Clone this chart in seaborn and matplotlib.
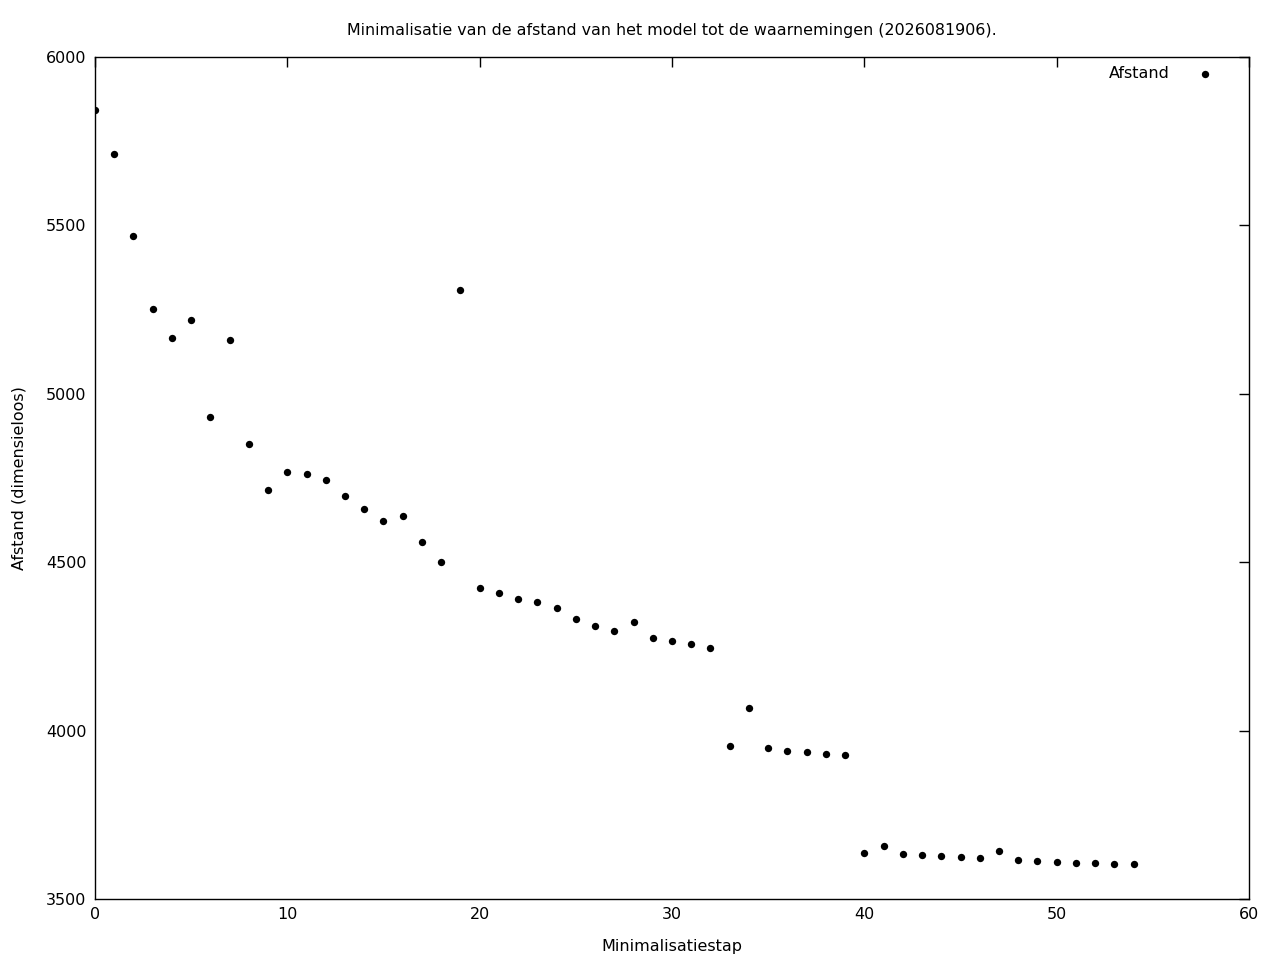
import numpy as np
import pandas as pd
import matplotlib
matplotlib.use("Agg")
import matplotlib.pyplot as plt
import seaborn as sns

# minimalisatiestap en afstand
stap = list(range(55))
afstand = [5843, 5712, 5469, 5252, 5166, 5219, 4931, 5160, 4851, 4714,
           4768, 4762, 4744, 4697, 4658, 4622, 4637, 4560, 4501, 5308,
           4423, 4409, 4391, 4382, 4364, 4331, 4311, 4296, 4322, 4275,
           4266, 4257, 4245, 3954, 4067, 3948, 3939, 3936, 3930, 3928,
           3637, 3657, 3634, 3631, 3628, 3625, 3622, 3643, 3616, 3613,
           3610, 3607, 3607, 3604, 3604]

df = pd.DataFrame({"stap": stap, "Afstand": afstand})

sns.set_style("white")
plt.rcParams['font.family'] = ['DejaVu Sans']
plt.rcParams['text.color'] = "black"
plt.rcParams['axes.labelcolor'] = "black"

fig = plt.figure(figsize=(12.8, 9.6), dpi=100)
ax = fig.add_axes([0.0742, 0.0635, 0.9016, 0.8771])

sns.scatterplot(data=df, x="stap", y="Afstand", ax=ax, color="black",
                s=28, edgecolor="black", linewidth=0, label="Afstand")

ax.set_xlim(0, 60)
ax.set_ylim(3500, 6000)
ax.set_xticks(np.arange(0, 61, 10))
ax.set_yticks(np.arange(3500, 6001, 500))
ax.tick_params(direction="in", length=7, width=1, top=True, right=True,
               labelsize=11.5, colors="black", pad=6)
for sp in ax.spines.values():
    sp.set_linewidth(1)
    sp.set_color("black")

ax.set_xlabel("Minimalisatiestap", fontsize=11.5, labelpad=12)
ax.set_ylabel("Afstand (dimensieloos)", fontsize=11.5, labelpad=14)
ax.set_title("Minimalisatie van de afstand van het model tot de waarnemingen (2026081906).",
             fontsize=11.4, pad=15.5)

# legenda zoals gnuplot: tekst links, symbool rechts
leg = ax.legend(loc="upper right", bbox_to_anchor=(0.9853, 1.0024),
                frameon=False, markerfirst=False, fontsize=11.5,
                handletextpad=1.2, borderaxespad=0.3)

fig.savefig("out.png", dpi=100)
